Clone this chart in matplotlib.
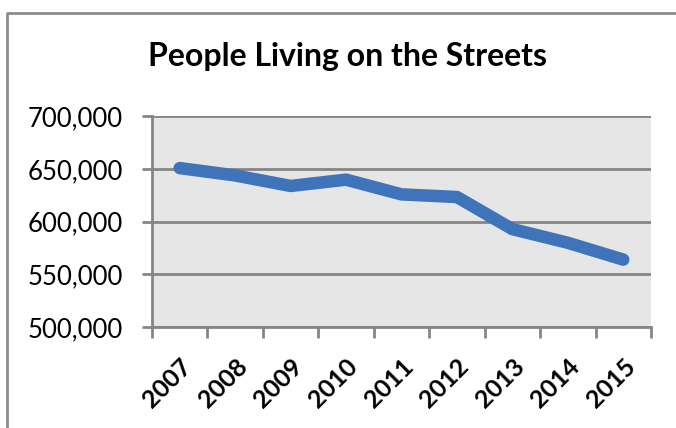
import matplotlib
matplotlib.use("Agg")
import matplotlib.pyplot as plt
from matplotlib.lines import Line2D
from matplotlib.ticker import FuncFormatter
import numpy as np

years = ["2007", "2008", "2009", "2010", "2011", "2012", "2013", "2014", "2015"]
people = [651000, 644000, 634000, 640000, 626000, 623500, 593000, 580000, 564000]
y_ticks = [500000, 550000, 600000, 650000, 700000]

plt.rcParams["font.family"] = ["Lato", "DejaVu Sans"]

fig = plt.figure(figsize=(6.76, 4.28), dpi=100)
ax = fig.add_axes([152 / 676, 1 - 327 / 428, (651 - 152) / 676, (327 - 116.5) / 428])

x = np.arange(len(years))
ax.plot(x, people, color="#3f73ba", lw=9, solid_capstyle="round",
        solid_joinstyle="round", zorder=3)

ax.set_facecolor("#e6e6e6")
ax.set_xlim(-0.5, len(years) - 0.5)
ax.set_ylim(500000, 700000)
ax.set_yticks(y_ticks)
ax.yaxis.set_major_formatter(FuncFormatter(lambda v, p: f"{int(v):,}"))
ax.grid(axis="y", color="#858585", lw=2)
ax.set_axisbelow(True)

ax.set_xticks(x)
ax.set_xticklabels(years, rotation=45, ha="right", rotation_mode="anchor",
                   fontsize=18, fontweight="bold")
ax.set_xticks(np.arange(len(years) + 1) - 0.5, minor=True)
ax.tick_params(axis="x", which="major", length=0, pad=20)
ax.tick_params(axis="x", which="minor", length=8, width=2, color="#858585")
ax.tick_params(axis="y", length=7, width=2, color="#858585", pad=14,
               labelsize=18.5)

for s in ["top", "right"]:
    ax.spines[s].set_visible(False)
for s in ["left", "bottom"]:
    ax.spines[s].set_color("#858585")
    ax.spines[s].set_linewidth(2)

fig.text(347 / 676, 1 - 57 / 428, "People Living on the Streets",
         ha="center", va="center", fontsize=23, fontweight="bold")

# outer chart frame (top and left edges visible)
fig.add_artist(Line2D([6.5 / 676, 6.5 / 676, 1], [0, 1 - 12.5 / 428, 1 - 12.5 / 428],
                      transform=fig.transFigure, color="#8c8c8c", lw=2))

fig.savefig("out.png", dpi=100)
